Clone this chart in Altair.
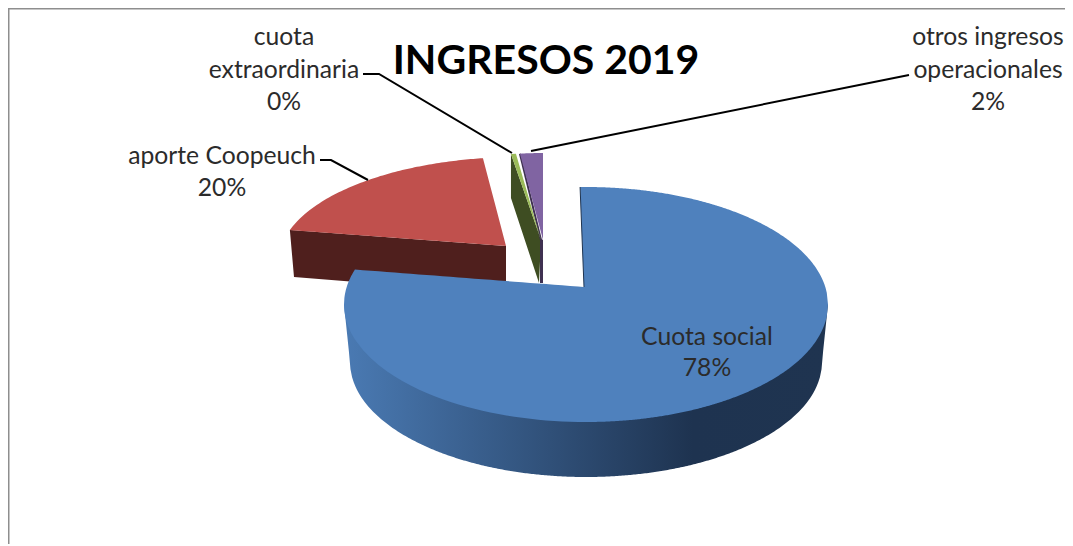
import numpy as np
import pandas as pd
import altair as alt

# ---- values
categories = ["Cuota social", "aporte Coopeuch", "cuota extraordinaria", "otros ingresos operacionales"]
shares = [77.8, 19.8, 0.4, 2.0]
top_colors = ["#4f81bd", "#c0504d", "#9bbb59", "#8064a2"]
wall_colors = ["#1f3450", "#4f1f1d", "#3e4d22", "#3f3151"]
title_text = "INGRESOS 2019"
FONT = "Lato"

# ---- layout of the drawing (page pixels of the reference)
W, H = 1057, 536
XS = alt.Scale(domain=[8, 8 + W], nice=False, zero=False)
YS = alt.Scale(domain=[8 + H, 8], nice=False, zero=False)
X = alt.X("x:Q", axis=None, scale=XS)
Y = alt.Y("y:Q", axis=None, scale=YS)

cum = np.cumsum([0] + shares)


def phi(c):
    """screen angle (radians) for a cumulative share, with a small perspective correction"""
    t = np.radians(c * 3.6)
    return t + np.radians(7.7) * np.sin(t) ** 4


def pt(a, cx, cy, rx, ry):
    return cx + rx * np.sin(a), cy - ry * np.cos(a)


def upper(x, cx, cy, rx, ry):
    return cy - ry * np.sqrt(np.clip(1 - ((x - cx) / rx) ** 2, 0, 1))


def lower(x, cx, cy, rx, ry):
    return cy + ry * np.sqrt(np.clip(1 - ((x - cx) / rx) ** 2, 0, 1))


def seg(x, p, q):
    return p[1] + (q[1] - p[1]) * (x - p[0]) / (q[0] - p[0])


def area(rows, fill):
    df = pd.DataFrame([[float(v) for v in r] for r in rows], columns=["x", "ya", "yb"])
    return alt.Chart(df).mark_area(color=fill, opacity=1).encode(
        x=X,
        y=alt.Y("ya:Q", axis=None, scale=YS),
        y2="yb:Q",
    )


def line(points, color="#000000", width=2):
    df = pd.DataFrame(points, columns=["x", "y"])
    df["i"] = range(len(df))
    return alt.Chart(df).mark_line(color=color, strokeWidth=width, opacity=1).encode(
        x=X, y=Y, order=alt.Order("i:Q")
    )


layers = []

# frame
layers.append(line([(8.5, 8 + H), (8.5, 8.5), (8 + W, 8.5)], "#8e8e8e", 2))

# ---- red slice
E = (519, 261, 240, 104)
apex = (506, 246)
pL = pt(phi(cum[1]), *E)
pT = pt(phi(cum[2]), *E)
wall_bl = (294, 277)
wall_br = (506.5, 294)
rows = [(pL[0], pL[1], pL[1]), (wall_bl[0], seg(wall_bl[0], pL, apex), wall_bl[1]),
        (apex[0], apex[1], wall_br[1])]
layers.append(area(rows, wall_colors[1]))
rows = [(x, upper(x, *E), seg(x, pL, apex)) for x in np.linspace(pL[0], pT[0], 80)]
rows += [(x, seg(x, pT, apex), seg(x, pL, apex)) for x in np.linspace(pT[0], apex[0], 5)]
layers.append(area(rows, top_colors[1]))

# ---- green slice (almost nothing)
E = (541, 240, 200, 87)
apex = (541, 240)
pL = pt(phi(cum[2]), *E)
pT = pt(phi(cum[3]), *E)
bl = (pL[0], pL[1] + 44)
br = (539, 283)
rows = [(pL[0], pL[1], bl[1]), (br[0], seg(br[0], pL, apex), br[1]), (apex[0], apex[1], apex[1])]
layers.append(area(rows, wall_colors[2]))

# ---- purple slice
E = (543, 240, 184, 87)
apex = (543, 240)
qL = pt(phi(cum[3]), *E)
qT = pt(phi(cum[4]), *E)
layers.append(area([(540, 238, 283), (543, 240, 283)], wall_colors[3]))
layers.append(line([qL, (541, 240)], wall_colors[3], 2))
rows = [(x, upper(x, *E), seg(x, qL, (543.01, 240))) for x in np.linspace(qL[0], 543, 12)]
layers.append(area(rows, top_colors[3]))
# green top face
apex_g = (541, 240)
rows = [(pL[0], pL[1], pL[1]), (pT[0], pT[1], seg(pT[0], pL, apex_g)), (apex_g[0], apex_g[1], apex_g[1])]
layers.append(area(rows, top_colors[2]))

# ---- blue slice
E = (586, 304.5, 242, 117.5)
E2 = (586, 362, 236, 115)
apex = (584, 287)
p0 = pt(np.radians(-1.4), *E)
pe = pt(phi(cum[1]), *E)
xs = np.linspace(E[0] - E[2], E[0] + E[2], 300)
left_edge = ((E[0] - E[2], E[1]), (E2[0] - E2[2], E2[1]))
right_edge = ((E[0] + E[2], E[1]), (E2[0] + E2[2], E2[1]))
rows = []
for x in xs:
    b = lower(x, *E)
    if abs(x - E2[0]) < E2[2]:
        b = max(b, lower(x, *E2))
    elif x < E2[0]:
        b = max(b, seg(x, *left_edge))
    else:
        b = max(b, seg(x, *right_edge))
    rows.append((x, E[1], b))
wall_grad = alt.Gradient(
    gradient="linear",
    stops=[alt.GradientStop(color="#4a7ab3", offset=0),
           alt.GradientStop(color="#1e3350", offset=0.72),
           alt.GradientStop(color="#1f3450", offset=1)],
    x1=0, x2=1, y1=0, y2=0,
)
layers.append(area(rows, wall_grad))

rows = []
for x in np.linspace(E[0] - E[2], pe[0], 30):
    rows.append((x, upper(x, *E), lower(x, *E)))
for x in np.linspace(pe[0], apex[0] + 2, 30):
    rows.append((x, seg(x, pe, apex), lower(x, *E)))
layers.append(area(rows, top_colors[0]))
rows = [(x, upper(x, *E), seg(x, p0, apex)) for x in np.linspace(p0[0], apex[0], 5)]
rows += [(x, upper(x, *E), lower(x, *E)) for x in np.linspace(apex[0], E[0] + E[2], 200)]
layers.append(area(rows, top_colors[0]))
layers.append(line([p0, apex], wall_colors[0], 1))

# ---- leader lines
layers.append(line([(320, 160), (331, 160), (368, 180)]))
layers.append(line([(363, 74), (379, 74), (512, 153)]))
layers.append(line([(909, 75), (899, 77), (531, 151)]))

# ---- labels
labels = pd.DataFrame(
    [
        ("Cuota social", 707, 338), (f"{round(shares[0])}%", 707, 369),
        ("aporte Coopeuch", 222, 157), (f"{round(shares[1])}%", 222, 189),
        ("cuota", 284, 38), ("extraordinaria", 284, 71), (f"{round(shares[2])}%", 284, 103),
        ("otros ingresos", 988, 38), ("operacionales", 988, 71), (f"{round(shares[3])}%", 988, 103),
    ],
    columns=["t", "x", "y"],
)
layers.append(
    alt.Chart(labels).mark_text(font=FONT, fontSize=24.7, color="#2b2b2b", align="center", baseline="middle")
    .encode(x=X, y=Y, text="t:N")
)
title_df = pd.DataFrame({"t": [title_text], "x": [546], "y": [62]})
layers.append(
    alt.Chart(title_df).mark_text(font=FONT, fontSize=41, fontWeight="bold", color="#000000",
                                  align="center", baseline="middle")
    .encode(x=X, y=Y, text="t:N")
)

chart = (
    alt.layer(*layers)
    .properties(width=W, height=H, padding=0, background="#ffffff",
                autosize=alt.AutoSizeParams(type="none"))
    .configure_view(stroke=None)
)
chart.save("out.html", embed_options={"renderer": "svg", "actions": False})
